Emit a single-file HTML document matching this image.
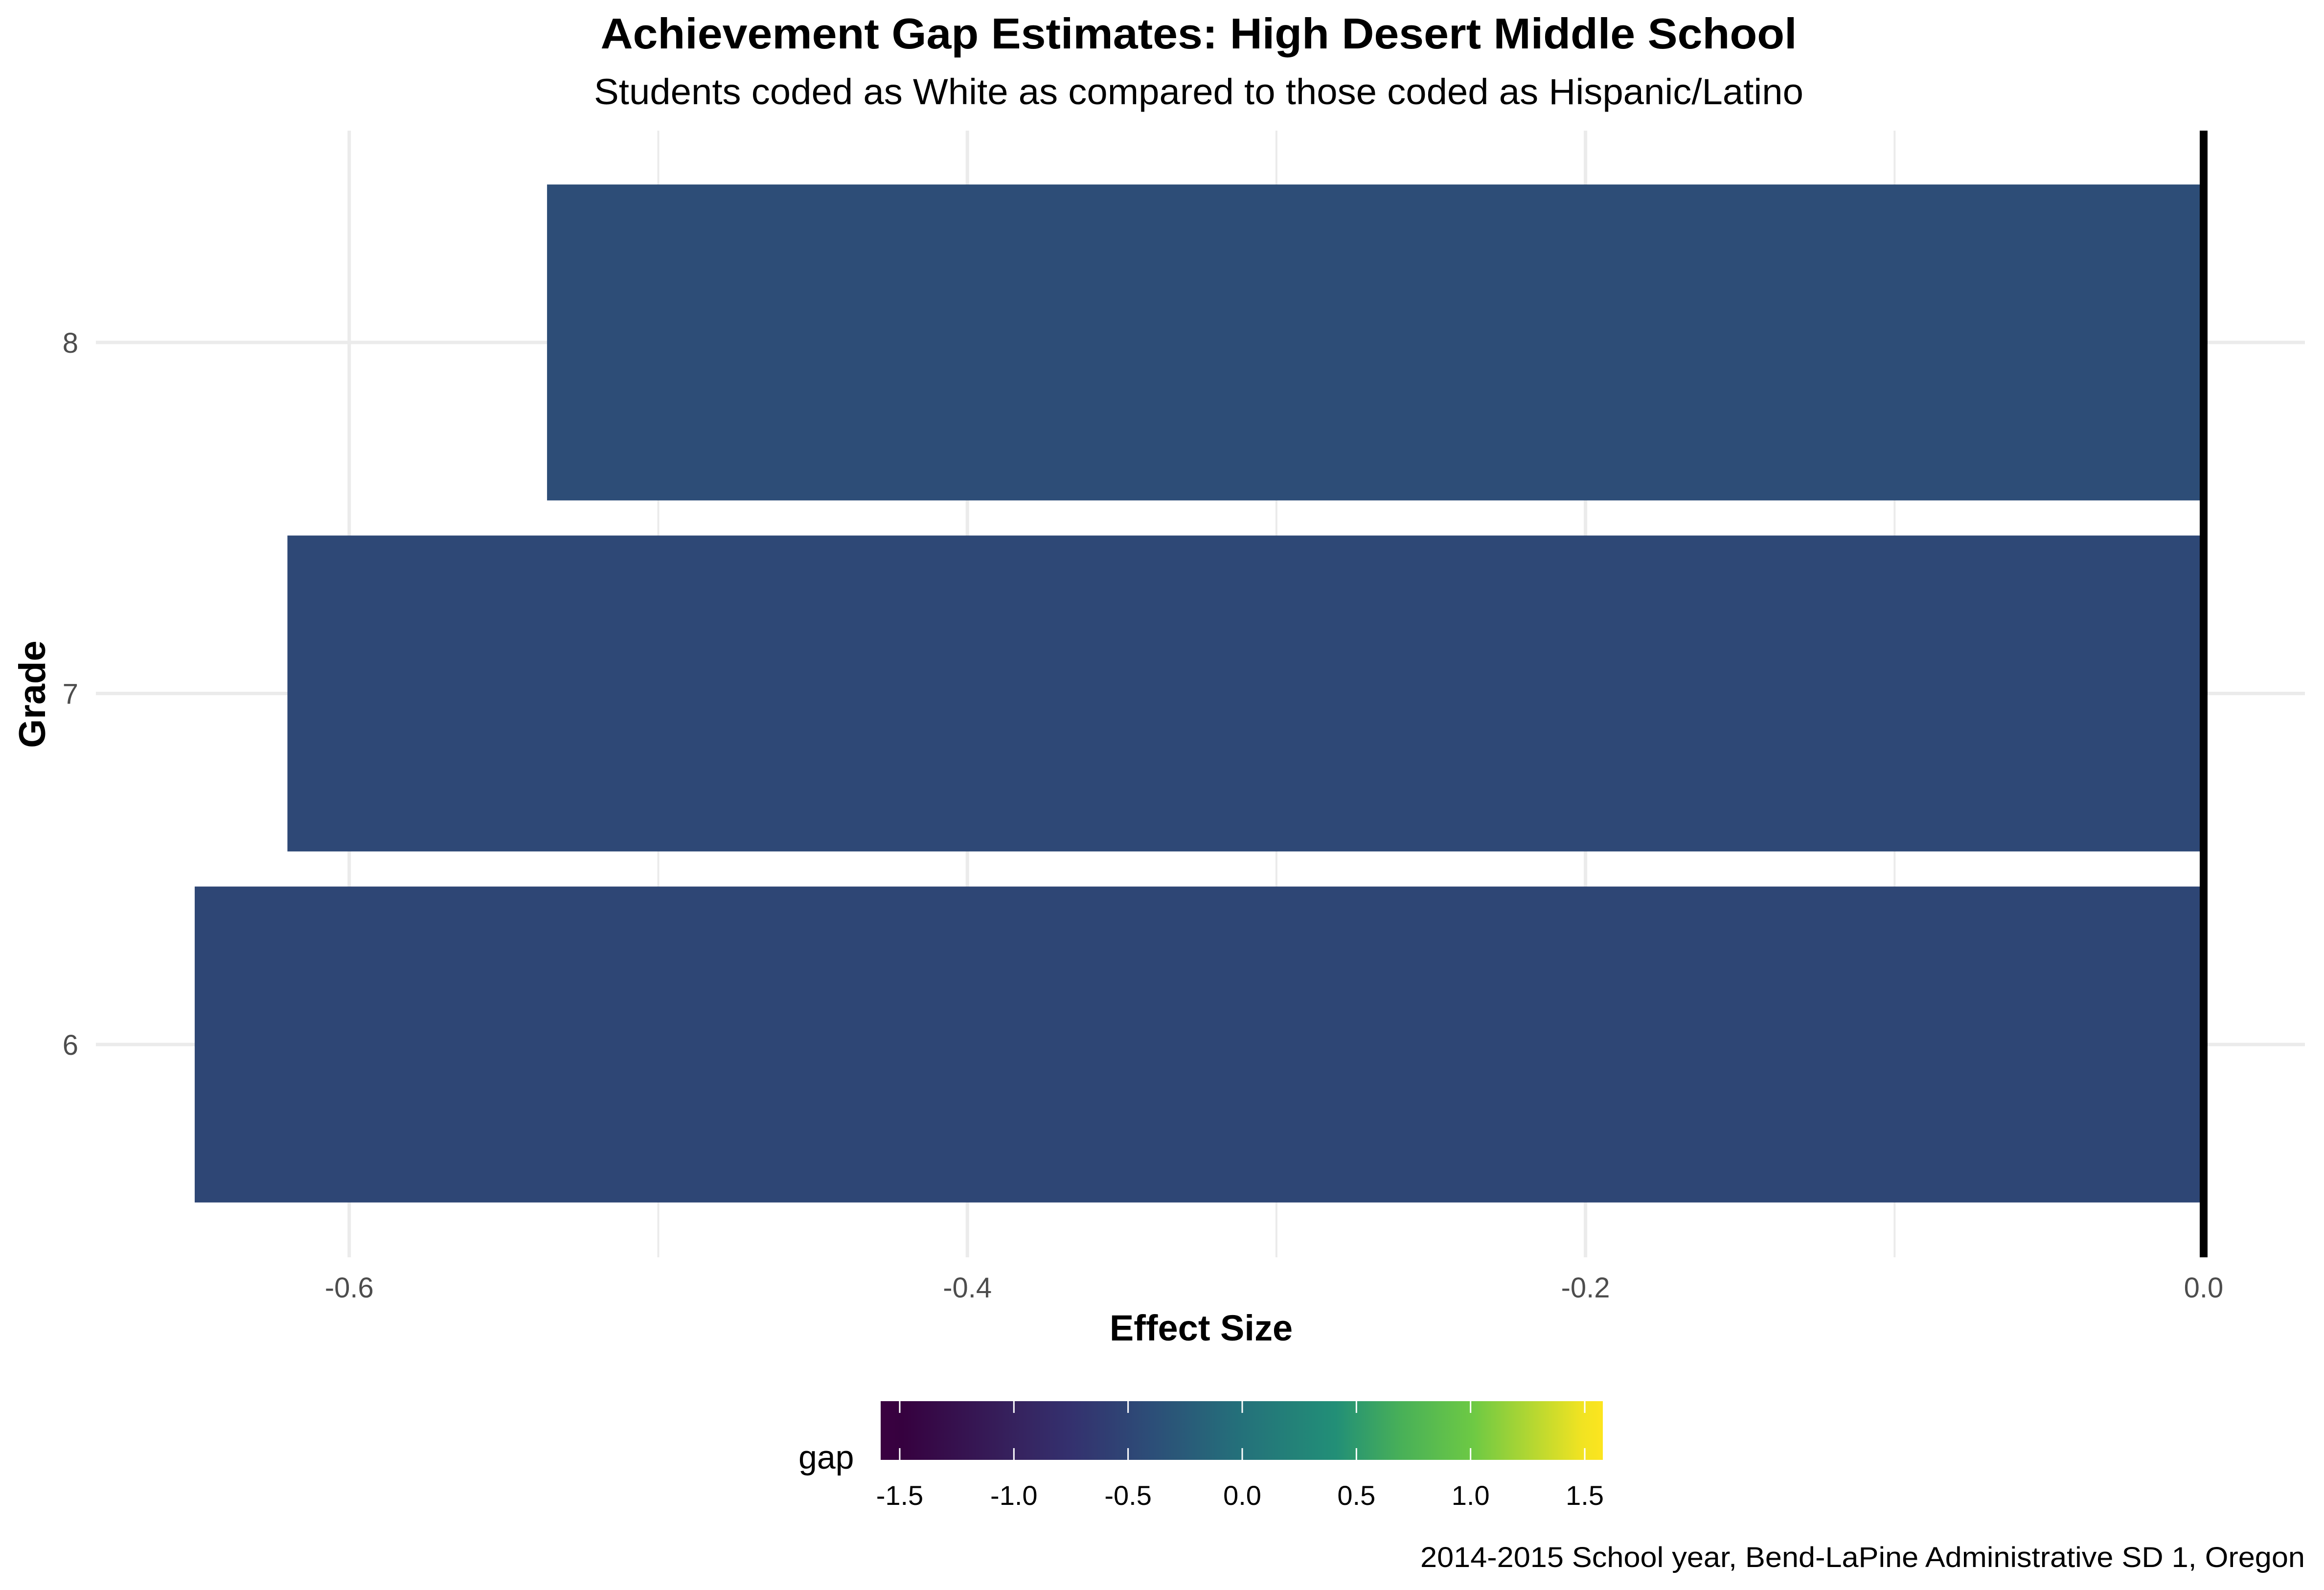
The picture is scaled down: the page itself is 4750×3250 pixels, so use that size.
<!DOCTYPE html>
<html><head><meta charset="utf-8"><style>
html,body{margin:0;padding:0;background:#fff}
svg{display:block}
text{font-family:"Liberation Sans",Arial,sans-serif}
</style></head><body>
<svg id="chart" width="4750" height="3250" viewBox="0 0 4750 3250" xmlns="http://www.w3.org/2000/svg">
<rect width="4750" height="3250" fill="#fff"/>
<text x="2450" y="99" text-anchor="middle" font-size="88" font-weight="bold" textLength="2445" lengthAdjust="spacingAndGlyphs">Achievement Gap Estimates: High Desert Middle School</text>
<text x="2450" y="213" text-anchor="middle" font-size="74" textLength="2472" lengthAdjust="spacingAndGlyphs">Students coded as White as compared to those coded as Hispanic/Latino</text>
<g id="grid"></g>
<g id="bars"></g>
<g id="axes"></g>
<text x="2455" y="2740" text-anchor="middle" font-size="74" font-weight="bold">Effect Size</text>
<text transform="translate(92,1419) rotate(-90)" text-anchor="middle" font-size="76" font-weight="bold">Grade</text>
<g id="legend">
<defs><linearGradient id="vir" x1="0" x2="1" y1="0" y2="0">
<stop offset="0" stop-color="#3a0140"/>
<stop offset="0.03" stop-color="#36013f"/>
<stop offset="0.19" stop-color="#36235f"/>
<stop offset="0.26" stop-color="#34306e"/>
<stop offset="0.38" stop-color="#2c4f78"/>
<stop offset="0.5" stop-color="#24717a"/>
<stop offset="0.63" stop-color="#228f77"/>
<stop offset="0.72" stop-color="#48b058"/>
<stop offset="0.82" stop-color="#6dc944"/>
<stop offset="0.97" stop-color="#f0e322"/>
<stop offset="1" stop-color="#fde51f"/>
</linearGradient></defs>
<rect x="1800" y="2864" width="1476" height="120" fill="url(#vir)"/>
<text x="1632" y="3002" font-size="68">gap</text>
</g>
<text x="4711" y="3203" text-anchor="end" font-size="58" textLength="1808" lengthAdjust="spacingAndGlyphs">2014-2015 School year, Bend-LaPine Administrative SD 1, Oregon</text>
</svg>
<script>
const grades = ["6", "7", "8"];
const gaps = [-0.650, -0.620, -0.536];
const xTicks = [-0.6, -0.4, -0.2, 0.0];
const xTickLabels = ["-0.6", "-0.4", "-0.2", "0.0"];
const legendTicks = [-1.5, -1.0, -0.5, 0.0, 0.5, 1.0, 1.5];
const legendTickLabels = ["-1.5", "-1.0", "-0.5", "0.0", "0.5", "1.0", "1.5"];

const NS = "http://www.w3.org/2000/svg";
const panel = {left:196, right:4711, top:267, bottom:2570};
function xScale(v){ return 4504 + v * 6317; }
function yScale(i){ return 2135 - i * 717.5; }
const band = 717.5 * 0.9;
function lScale(v){ return 2539 + v * 466.7; }
const stops = [[-1.5,[58,1,64]],[-1.0,[52,48,110]],[-0.5,[44,79,120]],[0,[36,113,122]],[0.5,[34,145,119]],[1.0,[111,201,68]],[1.5,[253,229,31]]];
function colorOf(v){
  for(let i=0;i<stops.length-1;i++){
    const a=stops[i], b=stops[i+1];
    if(v<=b[0]){ const t=Math.max(0,(v-a[0])/(b[0]-a[0]));
      const c=a[1].map((x,k)=>Math.round(x+(b[1][k]-x)*t));
      return "rgb("+c.join(",")+")"; }
  }
  return "rgb(253,229,31)";
}
function mk(tag, attrs, parent){ const e=document.createElementNS(NS,tag); for(const k in attrs) e.setAttribute(k,attrs[k]); parent.appendChild(e); return e; }

const grid=document.getElementById("grid"), bars=document.getElementById("bars"), axes=document.getElementById("axes"), legend=document.getElementById("legend");
for(let i=0;i<xTicks.length-1;i++){
  const mv=(xTicks[i]+xTicks[i+1])/2;
  const g=mk("line",{x1:xScale(mv),x2:xScale(mv),y1:panel.top,y2:panel.bottom,stroke:"#ebebeb","stroke-width":4},grid);
  
  
}
xTicks.forEach((v,i)=>{
  const g=mk("line",{x1:xScale(v),x2:xScale(v),y1:panel.top,y2:panel.bottom,stroke:"#ebebeb","stroke-width":7},grid);
  
  
  const t=mk("text",{x:xScale(v),y:2652,"text-anchor":"middle","font-size":58,fill:"#4d4d4d"},axes);
  t.textContent=xTickLabels[i];
  
  
});
grades.forEach((g,i)=>{
  const l=mk("line",{x1:panel.left,x2:panel.right,y1:yScale(i),y2:yScale(i),stroke:"#ebebeb","stroke-width":7},grid);
  
  
  const t=mk("text",{x:160,y:yScale(i)+21,"text-anchor":"end","font-size":58,fill:"#4d4d4d"},axes);
  t.textContent=g;
  
  
  const v=gaps[i];
  const r=mk("rect",{x:Math.min(xScale(v),xScale(0)),y:yScale(i)-band/2,width:Math.abs(xScale(v)-xScale(0)),height:band,fill:colorOf(v)},bars);
  
  
});
const zl=mk("line",{x1:xScale(0),x2:xScale(0),y1:panel.top,y2:panel.bottom,stroke:"#000","stroke-width":16},axes);


legendTicks.forEach((v,i)=>{
  const a=mk("line",{x1:lScale(v),x2:lScale(v),y1:2864,y2:2888,stroke:"#fff","stroke-width":3},legend);
  
  
  const b=mk("line",{x1:lScale(v),x2:lScale(v),y1:2960,y2:2984,stroke:"#fff","stroke-width":3},legend);
  
  
  const t=mk("text",{x:lScale(v),y:3076,"text-anchor":"middle","font-size":56,fill:"#000"},legend);
  t.textContent=legendTickLabels[i];
  
  
});
</script>
</body></html>
